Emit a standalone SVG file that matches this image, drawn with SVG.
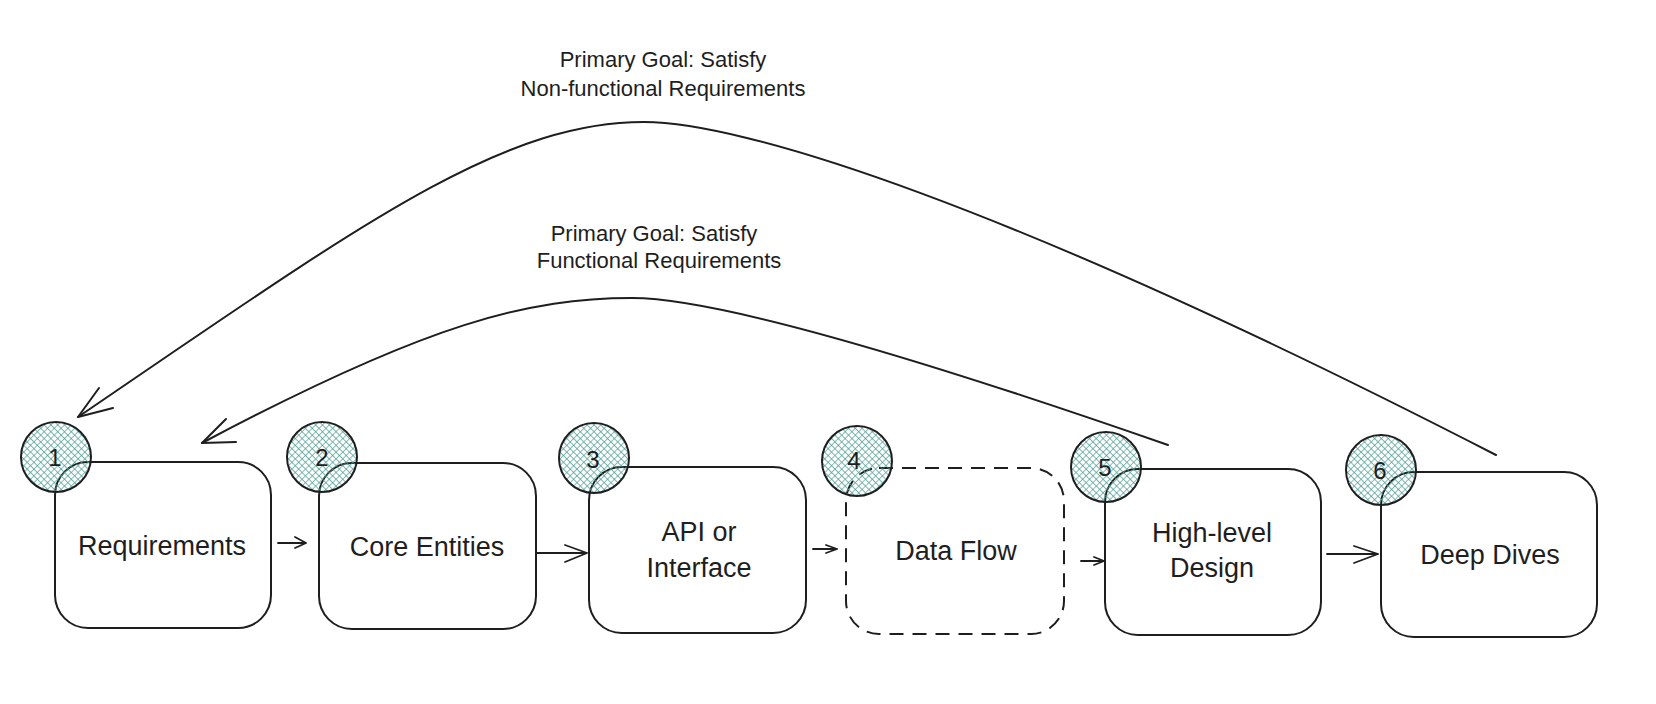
<svg xmlns="http://www.w3.org/2000/svg" width="1656" height="704" viewBox="0 0 1656 704">
  <style>
    .box { fill: none; stroke: #1e1e1e; stroke-width: 2; }
    .dashed { stroke-dasharray: 14 9; }
    .badge { fill: url(#hatch); stroke: #1e1e1e; stroke-width: 2; }
    .label { font-family: "Liberation Sans", Arial, sans-serif; font-size: 27px; fill: #1e1e1e; text-anchor: middle; }
    .num { font-family: "Liberation Sans", Arial, sans-serif; font-size: 24px; fill: #1e1e1e; text-anchor: middle; }
    .note { font-family: "Liberation Sans", Arial, sans-serif; font-size: 22px; fill: #1e1e1e; text-anchor: middle; }
    .wire { fill: none; stroke: #1e1e1e; stroke-width: 1.8; stroke-linecap: round; stroke-linejoin: round; }
    .arc { fill: none; stroke: #1e1e1e; stroke-width: 2; stroke-linecap: round; stroke-linejoin: round; }
  </style>
  <defs>
    <!-- cross-hatch fill for the numbered step badges -->
    <pattern id="hatch" patternUnits="userSpaceOnUse" width="4.8" height="4.8" patternTransform="rotate(45)">
      <path d="M0,0 H4.8 M0,0 V4.8" stroke="#479a90" stroke-width="1.3"/>
    </pattern>
  </defs>

  <rect width="1656" height="704" fill="#ffffff"/>

  <!-- feedback loops and step-to-step arrows -->
  <g id="connectors">
    <!-- Deep Dives back to Requirements -->
    <path class="arc" d="M78,417 C360,225 500,122 644,122 C740,122 1000,200 1496,455"/>
    <path class="arc" d="M99,388 L78,417 L113,408"/>
    <!-- High-level Design back to Requirements -->
    <path class="arc" d="M202,443 C430,322 530,298 632,298 C725,298 950,369 1168,445"/>
    <path class="arc" d="M226,419 L202,443 L236,442"/>

    <!-- 1 -> 2 -->
    <path class="wire" d="M278,543 L306,543 M295,537 L306,543 L295,548"/>
    <!-- 2 -> 3 -->
    <path class="wire" d="M537,553 L587,553 M565,545 L587,553 L565,562"/>
    <!-- 3 -> 4 -->
    <path class="wire" d="M813,549 L837,549 M826,545 L837,549 L826,553"/>
    <!-- 4 -> 5 -->
    <path class="wire" d="M1081,561 L1104,561 M1094,557 L1104,561 L1094,565"/>
    <!-- 5 -> 6 -->
    <path class="wire" d="M1327,554 L1378,554 M1354,546 L1378,554 L1354,563"/>
  </g>

  <g id="step-requirements">
    <rect class="box" x="55" y="462" width="216" height="166" rx="33"/>
    <circle class="badge" cx="56" cy="457" r="35"/>
    <text class="num" x="55" y="466">1</text>
    <text class="label" x="162" y="555">Requirements</text>
  </g>

  <g id="step-core-entities">
    <rect class="box" x="319" y="463" width="217" height="166" rx="33"/>
    <circle class="badge" cx="322" cy="457" r="35"/>
    <text class="num" x="322" y="466">2</text>
    <text class="label" x="427" y="556">Core Entities</text>
  </g>

  <g id="step-api">
    <rect class="box" x="589" y="467" width="217" height="166" rx="33"/>
    <circle class="badge" cx="594" cy="458" r="35"/>
    <text class="num" x="593" y="468">3</text>
    <text class="label" x="699" y="541">API or</text>
    <text class="label" x="699" y="577">Interface</text>
  </g>

  <g id="step-data-flow">
    <rect class="box dashed" x="846" y="468" width="218" height="166" rx="33"/>
    <circle class="badge" cx="857" cy="461" r="35"/>
    <text class="num" x="854" y="469">4</text>
    <text class="label" x="956" y="560">Data Flow</text>
  </g>

  <g id="step-high-level">
    <rect class="box" x="1105" y="469" width="216" height="166" rx="33"/>
    <circle class="badge" cx="1106" cy="467" r="35"/>
    <text class="num" x="1105" y="476">5</text>
    <text class="label" x="1212" y="542">High-level</text>
    <text class="label" x="1212" y="577">Design</text>
  </g>

  <g id="step-deep-dives">
    <rect class="box" x="1381" y="472" width="216" height="165" rx="33"/>
    <circle class="badge" cx="1381" cy="470" r="35"/>
    <text class="num" x="1380" y="479">6</text>
    <text class="label" x="1490" y="564">Deep Dives</text>
  </g>

  <g id="loop-labels">
    <text class="note" x="663" y="67">Primary Goal: Satisfy</text>
    <text class="note" x="663" y="96">Non-functional Requirements</text>
    <text class="note" x="654" y="241">Primary Goal: Satisfy</text>
    <text class="note" x="659" y="268">Functional Requirements</text>
  </g>
</svg>
